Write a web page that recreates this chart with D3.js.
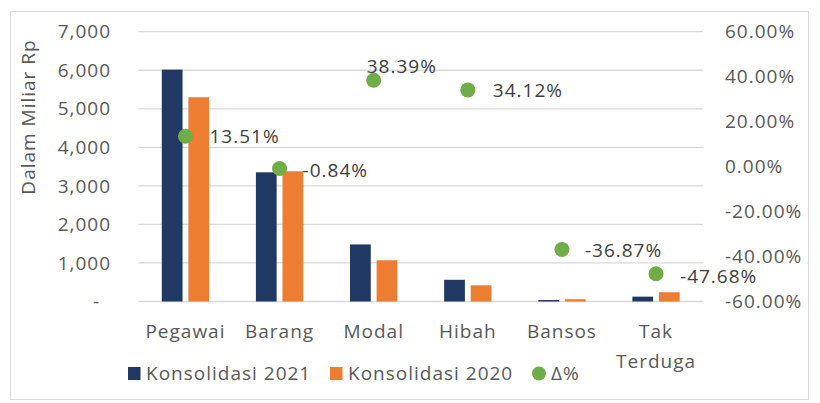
<!DOCTYPE html>
<html>
<head>
<meta charset="utf-8">
<script src="https://cdn.jsdelivr.net/npm/d3@7"></script>
<style>
  html, body { margin: 0; padding: 0; background: #fff; }
  svg { display: block; font-family: "Open Sans", "Noto Sans", sans-serif; }
  svg text { letter-spacing: 1px; }
</style>
</head>
<body>
<svg id="chart" width="820" height="403"></svg>
<script>
// Belanja daerah per jenis: realisasi konsolidasi 2021 vs 2020 (Miliar Rp) dan perubahannya
const categories = ["Pegawai", "Barang", "Modal", "Hibah", "Bansos", "Tak Terduga"];
const konsolidasi2021 = [6016, 3352, 1481, 563, 38, 126];
const konsolidasi2020 = [5300, 3380, 1070, 420, 60, 240];
const deltaPct = [13.51, -0.84, 38.39, 34.12, -36.87, -47.68];
const leftTicks = [0, 1000, 2000, 3000, 4000, 5000, 6000, 7000];
const rightTicks = [-60, -40, -20, 0, 20, 40, 60];
const seriesNames = ["Konsolidasi 2021", "Konsolidasi 2020", "Δ%"];
const seriesColors = ["#203864", "#ED7D31", "#70AD47"];

const svg = d3.select("#chart");
const plot = { left: 138.4, right: 703.1, top: 31.7, bottom: 301.5 };
const fontSize = 19;

// percent with a plain hyphen for negatives
const pct = d => d3.format(".2f")(d).replace("\u2212", "-") + "%";

// chart frame
svg.append("rect")
  .attr("x", 10.5).attr("y", 11.5).attr("width", 798).attr("height", 388)
  .attr("fill", "#fff").attr("stroke", "#d9d9d9").attr("stroke-width", 1);

const x = d3.scaleBand().domain(categories)
  .range([plot.left, plot.right]).paddingInner(0.497).paddingOuter(0.2485);
const xInner = d3.scaleBand().domain([0, 1])
  .range([0, x.bandwidth()]).paddingInner(0.22);
const y = d3.scaleLinear().domain([0, 7000]).range([plot.bottom, plot.top]);
const y2 = d3.scaleLinear().domain([-60, 60]).range([plot.bottom, plot.top]);

// gridlines
svg.append("g").selectAll("line").data(leftTicks).join("line")
  .attr("x1", plot.left).attr("x2", plot.right)
  .attr("y1", d => y(d)).attr("y2", d => y(d))
  .attr("stroke", "#d9d9d9").attr("stroke-width", 1.3);

// left axis labels
const fmtLeft = d => d === 0 ? "-" : d3.format(",")(d);
svg.append("g").selectAll("text").data(leftTicks).join("text")
  .attr("x", d => d === 0 ? 100 : 111)
  .attr("y", d => y(d)).attr("dy", "0.35em")
  .attr("text-anchor", "end")
  .attr("font-size", fontSize).attr("fill", "#595959")
  .text(fmtLeft);

// right axis labels
svg.append("g").selectAll("text").data(rightTicks).join("text")
  .attr("x", 725)
  .attr("y", d => y2(d)).attr("dy", "0.35em")
  .attr("text-anchor", "start")
  .attr("font-size", fontSize).attr("fill", "#595959")
  .text(pct);

// axis title
svg.append("text")
  .attr("transform", "translate(35,117) rotate(-90)")
  .attr("text-anchor", "middle")
  .attr("font-size", fontSize).attr("fill", "#595959")
  .text("Dalam Miliar Rp");

// bars
const barSeries = [konsolidasi2021, konsolidasi2020];
barSeries.forEach((vals, si) => {
  svg.append("g").selectAll("rect").data(vals).join("rect")
    .attr("x", (d, i) => x(categories[i]) + xInner(si))
    .attr("width", xInner.bandwidth())
    .attr("y", d => y(d))
    .attr("height", d => y(0) - y(d))
    .attr("fill", seriesColors[si]);
});

// category labels, wrapped when wider than the band step
const catG = svg.append("g");
categories.forEach(c => {
  const t = catG.append("text")
    .attr("x", x(c) + x.bandwidth() / 2)
    .attr("y", 338)
    .attr("text-anchor", "middle")
    .attr("font-size", fontSize).attr("fill", "#595959");
  t.text(c);
  if (t.node().getComputedTextLength() > x.step() - 6 && c.includes(" ")) {
    t.text(null);
    c.split(" ").forEach((w, k) => {
      t.append("tspan")
        .attr("x", x(c) + x.bandwidth() / 2)
        .attr("dy", k === 0 ? 0 : 30)
        .text(w);
    });
  }
});

// Δ% markers
const cx = i => x(categories[i]) + x.bandwidth() / 2;
svg.append("g").selectAll("circle").data(deltaPct).join("circle")
  .attr("cx", (d, i) => cx(i))
  .attr("cy", d => y2(d))
  .attr("r", 7.5)
  .attr("fill", seriesColors[2]);

// Δ% data labels (right of marker; one label lifted above its marker)
const labelNudge = [[24, 0], [23, 1], [-7, -14], [25, 0], [23, 0], [24, 2]];
svg.append("g").selectAll("text").data(deltaPct).join("text")
  .attr("x", (d, i) => cx(i) + labelNudge[i][0])
  .attr("y", (d, i) => y2(d) + labelNudge[i][1])
  .attr("dy", "0.37em")
  .attr("font-size", fontSize).attr("fill", "#404040")
  .text(pct);

// legend
const leg = svg.append("g");
const legX = [128, 330, 532];
seriesNames.forEach((name, i) => {
  if (i < 2) {
    leg.append("rect")
      .attr("x", legX[i]).attr("y", 367).attr("width", 12.5).attr("height", 13)
      .attr("fill", seriesColors[i]);
  } else {
    leg.append("circle")
      .attr("cx", legX[i] + 7).attr("cy", 373.5).attr("r", 7)
      .attr("fill", seriesColors[i]);
  }
  leg.append("text")
    .attr("x", legX[i] + (i < 2 ? 18 : 19))
    .attr("y", 380)
    .attr("font-size", fontSize).attr("fill", "#595959")
    .text(name);
});
</script>
</body>
</html>
